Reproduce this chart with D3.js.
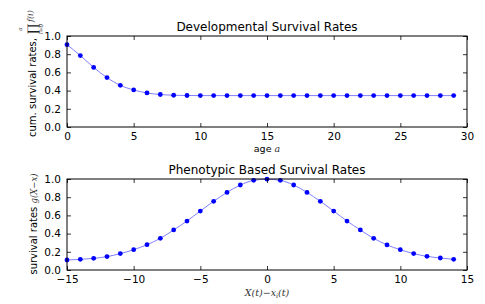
<!DOCTYPE html>
<meta charset="utf-8">
<title>Survival Rates</title>
<style>
body { margin: 0; background: #fff; }
text { font-family: "DejaVu Sans", sans-serif; }
.math { font-family: "DejaVu Serif", "Liberation Serif", serif; font-style: italic; }
</style>
<body>
<script src="https://d3js.org/d3.v7.min.js"></script>
<script>

var width = 485,
    height = 304;

// top panel: cumulative survival by age
var ages = d3.range(0, 30);
var cumSurvival = [0.905, 0.785, 0.655, 0.543, 0.458, 0.407, 0.374, 0.357, 0.349, 0.346,
                   0.345, 0.345, 0.345, 0.345, 0.345, 0.345, 0.345, 0.345, 0.345, 0.345,
                   0.345, 0.345, 0.345, 0.345, 0.345, 0.345, 0.345, 0.345, 0.345, 0.345];

// bottom panel: phenotypic survival
var distances = d3.range(-15, 15);
var phenoSurvival = [0.110, 0.117, 0.128, 0.147, 0.180, 0.223, 0.278, 0.348, 0.440, 0.538,
                     0.648, 0.755, 0.853, 0.934, 0.985, 0.998, 0.985, 0.934, 0.853, 0.755,
                     0.648, 0.538, 0.440, 0.348, 0.276, 0.223, 0.180, 0.150, 0.132, 0.117];

var yTicks = [0, 0.2, 0.4, 0.6, 0.8, 1.0];
var topXTicks = [0, 5, 10, 15, 20, 25, 30];
var botXTicks = [-15, -10, -5, 0, 5, 10, 15];

var svg = d3.select("body").append("svg")
    .attr("width", width)
    .attr("height", height);

function panel(opts) {
  var x = d3.scaleLinear().domain(opts.xDomain).range([67, 467]);
  var y = d3.scaleLinear().domain([0, 1]).range([opts.bottom, opts.top]);
  var g = svg.append("g");

  var line = d3.line()
      .x(function(d) { return x(d[0]); })
      .y(function(d) { return y(d[1]); })
      .curve(d3.curveMonotoneX);
  var pts = opts.xs.map(function(v, i) { return [v, opts.ys[i]]; });

  g.append("path")
      .datum(pts)
      .attr("d", line)
      .attr("fill", "none")
      .attr("stroke", "#7f7fff")
      .attr("stroke-width", 1);

  g.selectAll("circle")
      .data(pts)
      .enter().append("circle")
      .attr("cx", function(d) { return x(d[0]); })
      .attr("cy", function(d) { return y(d[1]); })
      .attr("r", 2.4)
      .attr("fill", "#0000ff");

  // axes, ticks inward on all sides
  var axB = d3.axisBottom(x).tickValues(opts.xTicks).tickSizeInner(-4).tickSizeOuter(0)
      .tickPadding(6).tickFormat(function(d) { return d < 0 ? "\u2212" + Math.abs(d) : d; });
  var axT = d3.axisTop(x).tickValues(opts.xTicks).tickSizeInner(-4).tickSizeOuter(0).tickFormat("");
  var axL = d3.axisLeft(y).tickValues(yTicks).tickSizeInner(-4).tickSizeOuter(0)
      .tickPadding(6).tickFormat(d3.format(".1f"));
  var axR = d3.axisRight(y).tickValues(yTicks).tickSizeInner(-4).tickSizeOuter(0).tickFormat("");

  [[axB, "translate(0," + opts.bottom + ")"], [axT, "translate(0," + opts.top + ")"],
   [axL, "translate(67,0)"], [axR, "translate(467,0)"]].forEach(function(a) {
    var ag = g.append("g").attr("transform", a[1]).call(a[0]);
    ag.select(".domain").remove();
    ag.selectAll("line").attr("stroke", "#000").attr("stroke-width", 0.8);
    ag.selectAll("text").attr("font-size", 10.5).attr("fill", "#000")
      .attr("font-family", "DejaVu Sans, sans-serif");
  });

  g.append("rect")
      .attr("x", 67).attr("y", opts.top)
      .attr("width", 400).attr("height", opts.bottom - opts.top)
      .attr("fill", "none").attr("stroke", "#000").attr("stroke-width", 1);

  g.append("text")
      .attr("x", 267).attr("y", opts.top - 5)
      .attr("text-anchor", "middle")
      .attr("font-size", 12)
      .text(opts.title);
  return g;
}

var g1 = panel({ xDomain: [0, 30], top: 36, bottom: 127, xs: ages, ys: cumSurvival,
                 xTicks: topXTicks, title: "Developmental Survival Rates" });
var g2 = panel({ xDomain: [-15, 15], top: 179, bottom: 270, xs: distances, ys: phenoSurvival,
                 xTicks: botXTicks, title: "Phenotypic Based Survival Rates" });

// x labels
var xl1 = g1.append("text").attr("x", 267).attr("y", 152).attr("text-anchor", "middle").attr("font-size", 9.5);
xl1.append("tspan").text("age ");
xl1.append("tspan").attr("class", "math").attr("fill", "#333").text("a");

var xl2 = g2.append("text").attr("class", "math").attr("x", 267).attr("y", 296)
    .attr("text-anchor", "middle").attr("font-size", 9.5).attr("fill", "#333");
xl2.append("tspan").text("X(t)\u2212x");
xl2.append("tspan").attr("font-size", 6.5).attr("dy", 2).text("i");
xl2.append("tspan").attr("dy", -2).text("(t)");

// y labels
var yg1 = g1.append("g").attr("transform", "translate(36,76) rotate(-90)");
var yl1 = yg1.append("text").attr("x", -61).attr("font-size", 10).text("cum. survival rates,");
var prodX = -61 + yl1.node().getComputedTextLength() + 4;
yg1.append("text").attr("class", "math").attr("x", prodX).attr("y", 1)
    .attr("font-size", 13).attr("font-style", "normal").attr("fill", "#222").text("\u220F");
yg1.append("text").attr("class", "math").attr("x", prodX + 5).attr("y", -14)
    .attr("text-anchor", "middle").attr("font-size", 5.5).attr("fill", "#333").text("a");
yg1.append("text").attr("class", "math").attr("x", prodX + 5).attr("y", 7)
    .attr("text-anchor", "middle").attr("font-size", 5.5).attr("fill", "#333").text("i=0");
yg1.append("text").attr("class", "math").attr("x", prodX + 12).attr("y", -3)
    .attr("font-size", 8).attr("fill", "#333").text("f(i)");

var yl2 = g2.append("text").attr("transform", "translate(37,224) rotate(-90)")
    .attr("text-anchor", "middle").attr("font-size", 10);
yl2.append("tspan").text("survival rates ");
yl2.append("tspan").attr("class", "math").attr("font-size", 8.5).attr("fill", "#333").text("g(X\u2212x)");

</script>
